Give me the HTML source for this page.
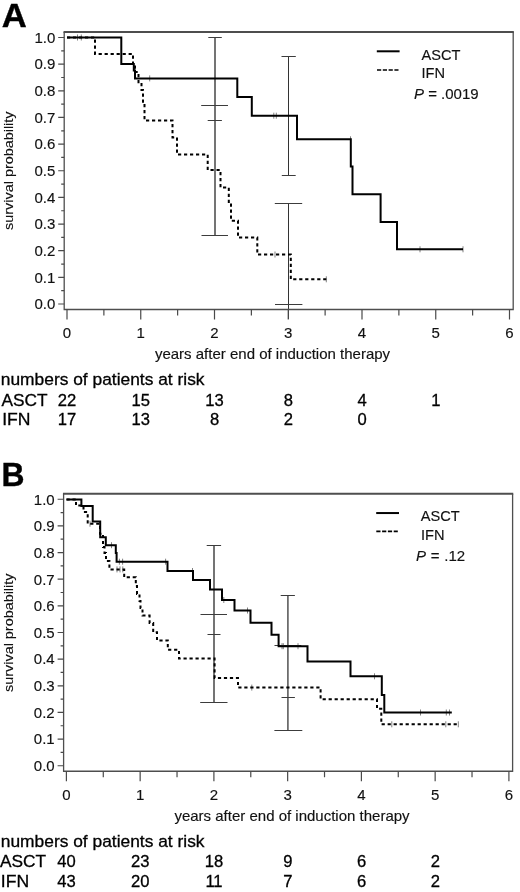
<!DOCTYPE html>
<html><head><meta charset="utf-8"><title>Survival after induction therapy</title>
<style>
html,body{margin:0;padding:0;background:#fff;}
body{width:520px;height:892px;overflow:hidden;font-family:"Liberation Sans", sans-serif;}
svg{display:block;will-change:transform;opacity:0.999;}
.t{font-family:"Liberation Sans", sans-serif;font-size:15px;fill:#111;stroke:#111;stroke-width:0.15px;}
.lg{font-family:"Liberation Sans", sans-serif;font-size:14.6px;fill:#111;stroke:#111;stroke-width:0.15px;}
.r{font-family:"Liberation Sans", sans-serif;font-size:16.6px;fill:#000;stroke:#000;stroke-width:0.3px;}
.L{font-family:"Liberation Sans", sans-serif;font-size:34.7px;font-weight:bold;fill:#000;stroke:#000;stroke-width:0.4px;}
</style></head>
<body>
<svg width="520" height="892" viewBox="0 0 520 892">
<rect width="520" height="892" fill="#fff"/>
<g>
<path d="M215,37.5V235.5" stroke="#5c5c5c" stroke-width="1.7" fill="none"/>
<path d="M288.5,56.5V175.5" stroke="#333" stroke-width="1" fill="none"/>
<path d="M288.5,203.5V319" stroke="#333" stroke-width="1" fill="none"/>
<path d="M208.3,37.5H221.8M207.7,120.5H221.9M201.2,105.5H228M201.5,235.5H228M281.5,56.5H295.8M281.8,175.5H295.7M274.8,203.5H302.2M275,304.5H302.4" stroke="#3c3c3c" stroke-width="1" fill="none"/>
<path d="M64.2,32V309.5H513.2V32" fill="none" stroke="#4e4e4e" stroke-width="1.3" stroke-linejoin="miter"/>
<path d="M63.550000000000004,32H513.85" fill="none" stroke="#4e4e4e" stroke-width="1.9"/>
<path d="M58.2,304.00H64.2M61.2,290.68H64.2M58.2,277.35H64.2M61.2,264.03H64.2M58.2,250.70H64.2M61.2,237.38H64.2M58.2,224.05H64.2M61.2,210.73H64.2M58.2,197.40H64.2M61.2,184.08H64.2M58.2,170.75H64.2M61.2,157.43H64.2M58.2,144.10H64.2M61.2,130.78H64.2M58.2,117.45H64.2M61.2,104.12H64.2M58.2,90.80H64.2M61.2,77.48H64.2M58.2,64.15H64.2M61.2,50.83H64.2M58.2,37.50H64.2M67.00,309.5V319.6M103.88,309.5V315.5M140.75,309.5V319.6M177.62,309.5V315.5M214.50,309.5V319.6M251.38,309.5V315.5M288.25,309.5V319.6M325.12,309.5V315.5M362.00,309.5V319.6M398.88,309.5V315.5M435.75,309.5V319.6M472.62,309.5V315.5M509.50,309.5V319.6" stroke="#4a4a4a" stroke-width="1.2" fill="none"/>
<text x="55.3" y="309.30" text-anchor="end" class="t">0.0</text>
<text x="55.3" y="282.65" text-anchor="end" class="t">0.1</text>
<text x="55.3" y="256.00" text-anchor="end" class="t">0.2</text>
<text x="55.3" y="229.35" text-anchor="end" class="t">0.3</text>
<text x="55.3" y="202.70" text-anchor="end" class="t">0.4</text>
<text x="55.3" y="176.05" text-anchor="end" class="t">0.5</text>
<text x="55.3" y="149.40" text-anchor="end" class="t">0.6</text>
<text x="55.3" y="122.75" text-anchor="end" class="t">0.7</text>
<text x="55.3" y="96.10" text-anchor="end" class="t">0.8</text>
<text x="55.3" y="69.45" text-anchor="end" class="t">0.9</text>
<text x="55.3" y="42.80" text-anchor="end" class="t">1.0</text>
<text x="67.00" y="337.80" text-anchor="middle" class="t">0</text>
<text x="140.75" y="337.80" text-anchor="middle" class="t">1</text>
<text x="214.50" y="337.80" text-anchor="middle" class="t">2</text>
<text x="288.25" y="337.80" text-anchor="middle" class="t">3</text>
<text x="362.00" y="337.80" text-anchor="middle" class="t">4</text>
<text x="435.75" y="337.80" text-anchor="middle" class="t">5</text>
<text x="509.50" y="337.80" text-anchor="middle" class="t">6</text>
<text x="272.5" y="359.3" text-anchor="middle" class="t">years after end of induction therapy</text>
<text transform="translate(12.8,170.7) rotate(-90) scale(0.994,0.925)" text-anchor="middle" class="t" style="font-size:14.5px">survival probability</text>
<path d="M77.5,34.5V40.5" stroke="#6a6a6a" stroke-width="0.85"/>
<path d="M81.3,34.5V40.5" stroke="#6a6a6a" stroke-width="0.85"/>
<path d="M149.7,75.4V81.4" stroke="#6a6a6a" stroke-width="0.85"/>
<path d="M215,75.4V81.4" stroke="#6a6a6a" stroke-width="0.85"/>
<path d="M273.8,112.7V118.7" stroke="#6a6a6a" stroke-width="0.85"/>
<path d="M276.3,112.7V118.7" stroke="#6a6a6a" stroke-width="0.85"/>
<path d="M350.5,136.3V142.3" stroke="#6a6a6a" stroke-width="0.85"/>
<path d="M420,246.3V252.3" stroke="#6a6a6a" stroke-width="0.85"/>
<path d="M463,246.3V252.3" stroke="#6a6a6a" stroke-width="0.85"/>
<path d="M275,251.5V257.5" stroke="#6a6a6a" stroke-width="0.85"/>
<path d="M326.3,276.3V282.3" stroke="#6a6a6a" stroke-width="0.85"/>
<path d="M67,37.5H95V53.9H133V64H135V72H138.5V84H141.5V90H143V105H144.5V120.5H172.5V137.5H177V154.5H207.7V170H220.5V187.5H228.8V204.5H231V220.7H238V237.5H257.3V254.5H290.8V279.3H326.3" stroke="#000" stroke-width="2" fill="none" stroke-dasharray="3.2 2.8"/>
<path d="M67,37.5H121.3V63.9H133.8V70.6H135V78.4H237.3V97H251.8V115.7H297V139.3H350.8V166.5H352.5V194.3H380.6V222H397V249.3H463" stroke="#000" stroke-width="2" fill="none" stroke-linejoin="miter"/>
<path d="M376.8,51.3H399.6" stroke="#000" stroke-width="2"/>
<path d="M377,70H398.5" stroke="#000" stroke-width="1.7" stroke-dasharray="4.2 1.6"/>
<text x="421.5" y="59.5" class="lg">ASCT</text>
<text x="421.5" y="78.3" class="lg">IFN</text>
<text x="414" y="99.4" class="t" style="word-spacing:0px"><tspan font-style="italic">P</tspan> = .0019</text>
<text transform="translate(1.7,26.5) scale(1.025,1)" class="L" style="font-size:33.8px">A</text>
<text transform="translate(0.8,385.2) scale(1.047,1)" class="r">numbers of patients at risk</text>
<text transform="translate(1.5,405.5) scale(1.04,1)" class="r">ASCT</text>
<text transform="translate(2.2,425.1) scale(1.06,1)" class="r">IFN</text>
<text x="67.10" y="405.6" text-anchor="middle" class="r">22</text>
<text x="140.85" y="405.6" text-anchor="middle" class="r">15</text>
<text x="214.60" y="405.6" text-anchor="middle" class="r">13</text>
<text x="288.35" y="405.6" text-anchor="middle" class="r">8</text>
<text x="362.10" y="405.6" text-anchor="middle" class="r">4</text>
<text x="435.85" y="405.6" text-anchor="middle" class="r">1</text>
<text x="67.10" y="425.20000000000005" text-anchor="middle" class="r">17</text>
<text x="140.85" y="425.20000000000005" text-anchor="middle" class="r">13</text>
<text x="214.60" y="425.20000000000005" text-anchor="middle" class="r">8</text>
<text x="288.35" y="425.20000000000005" text-anchor="middle" class="r">2</text>
<text x="362.10" y="425.20000000000005" text-anchor="middle" class="r">0</text>
</g>
<g>
<path d="M214,545.5V702.5" stroke="#5c5c5c" stroke-width="1.7" fill="none"/>
<path d="M287.9,595.5V730.5" stroke="#5c5c5c" stroke-width="1.6" fill="none"/>
<path d="M206.7,545.5H221.1M207.5,634.5H220.5M200.5,614.5H227M200.2,702.5H227.5M280.7,595.5H294.9M281.5,697.5H294.9M274.5,645.5H301.3M274.4,730.5H302.3" stroke="#3c3c3c" stroke-width="1" fill="none"/>
<path d="M63.6,493.75V771.25H512.6V493.75" fill="none" stroke="#4e4e4e" stroke-width="1.3" stroke-linejoin="miter"/>
<path d="M62.95,493.75H513.25" fill="none" stroke="#4e4e4e" stroke-width="1.9"/>
<path d="M57.6,765.75H63.6M60.6,752.42H63.6M57.6,739.10H63.6M60.6,725.77H63.6M57.6,712.45H63.6M60.6,699.12H63.6M57.6,685.80H63.6M60.6,672.47H63.6M57.6,659.15H63.6M60.6,645.82H63.6M57.6,632.50H63.6M60.6,619.17H63.6M57.6,605.85H63.6M60.6,592.52H63.6M57.6,579.20H63.6M60.6,565.88H63.6M57.6,552.55H63.6M60.6,539.22H63.6M57.6,525.90H63.6M60.6,512.57H63.6M57.6,499.25H63.6M66.40,771.25V781.35M103.28,771.25V777.25M140.15,771.25V781.35M177.03,771.25V777.25M213.90,771.25V781.35M250.78,771.25V777.25M287.65,771.25V781.35M324.52,771.25V777.25M361.40,771.25V781.35M398.27,771.25V777.25M435.15,771.25V781.35M472.02,771.25V777.25M508.90,771.25V781.35" stroke="#4a4a4a" stroke-width="1.2" fill="none"/>
<text x="54.699999999999996" y="771.05" text-anchor="end" class="t">0.0</text>
<text x="54.699999999999996" y="744.40" text-anchor="end" class="t">0.1</text>
<text x="54.699999999999996" y="717.75" text-anchor="end" class="t">0.2</text>
<text x="54.699999999999996" y="691.10" text-anchor="end" class="t">0.3</text>
<text x="54.699999999999996" y="664.45" text-anchor="end" class="t">0.4</text>
<text x="54.699999999999996" y="637.80" text-anchor="end" class="t">0.5</text>
<text x="54.699999999999996" y="611.15" text-anchor="end" class="t">0.6</text>
<text x="54.699999999999996" y="584.50" text-anchor="end" class="t">0.7</text>
<text x="54.699999999999996" y="557.85" text-anchor="end" class="t">0.8</text>
<text x="54.699999999999996" y="531.20" text-anchor="end" class="t">0.9</text>
<text x="54.699999999999996" y="504.55" text-anchor="end" class="t">1.0</text>
<text x="66.40" y="799.55" text-anchor="middle" class="t">0</text>
<text x="140.15" y="799.55" text-anchor="middle" class="t">1</text>
<text x="213.90" y="799.55" text-anchor="middle" class="t">2</text>
<text x="287.65" y="799.55" text-anchor="middle" class="t">3</text>
<text x="361.40" y="799.55" text-anchor="middle" class="t">4</text>
<text x="435.15" y="799.55" text-anchor="middle" class="t">5</text>
<text x="508.90" y="799.55" text-anchor="middle" class="t">6</text>
<text x="292" y="821.05" text-anchor="middle" class="t">years after end of induction therapy</text>
<text transform="translate(13.3,632.75) rotate(-90) scale(0.994,0.925)" text-anchor="middle" class="t" style="font-size:14.5px">survival probability</text>
<path d="M111.5,542.2V548.2" stroke="#6a6a6a" stroke-width="0.85"/>
<path d="M119.4,558.7V564.7" stroke="#6a6a6a" stroke-width="0.85"/>
<path d="M122.6,558.7V564.7" stroke="#6a6a6a" stroke-width="0.85"/>
<path d="M165.6,558.7V564.7" stroke="#6a6a6a" stroke-width="0.85"/>
<path d="M192.5,568V574" stroke="#6a6a6a" stroke-width="0.85"/>
<path d="M223.8,597V603" stroke="#6a6a6a" stroke-width="0.85"/>
<path d="M247.5,607.5V613.5" stroke="#6a6a6a" stroke-width="0.85"/>
<path d="M282,643.2V649.2" stroke="#6a6a6a" stroke-width="0.85"/>
<path d="M283.3,643.2V649.2" stroke="#6a6a6a" stroke-width="0.85"/>
<path d="M298,643.2V649.2" stroke="#6a6a6a" stroke-width="0.85"/>
<path d="M374.5,673.3V679.3" stroke="#6a6a6a" stroke-width="0.85"/>
<path d="M420.5,709.5V715.5" stroke="#6a6a6a" stroke-width="0.85"/>
<path d="M446.3,709.5V715.5" stroke="#6a6a6a" stroke-width="0.85"/>
<path d="M449.5,709.5V715.5" stroke="#6a6a6a" stroke-width="0.85"/>
<path d="M90,520.7V526.7" stroke="#6a6a6a" stroke-width="0.85"/>
<path d="M117,566.4V572.4" stroke="#6a6a6a" stroke-width="0.85"/>
<path d="M120,566.4V572.4" stroke="#6a6a6a" stroke-width="0.85"/>
<path d="M122.8,566.4V572.4" stroke="#6a6a6a" stroke-width="0.85"/>
<path d="M251.8,684.6V690.6" stroke="#6a6a6a" stroke-width="0.85"/>
<path d="M391.8,721.3V727.3" stroke="#6a6a6a" stroke-width="0.85"/>
<path d="M445.8,721.3V727.3" stroke="#6a6a6a" stroke-width="0.85"/>
<path d="M458.3,721.3V727.3" stroke="#6a6a6a" stroke-width="0.85"/>
<path d="M66.5,499.4H76V505.6H83.5V512H87.7V523.7H100V533.7H103V547H104.5V553H106V561H109.4V569.4H124.2V577.2H135.8V586H137V594H139.5V601H140.5V608H142.5V615.6H149.6V623H153.2V632.2H157V640.5H167.8V649.8H179V658.4H214.6V678H238V687.6H320.6V699.3H377V708.8H381.3V724.3H458.3" stroke="#000" stroke-width="2" fill="none" stroke-dasharray="3.2 2.8"/>
<path d="M66.5,499.4H81.4V506.1H92.7V521.4H100.2V537.2H105.8V545.2H115.8V553H116.6V561.7H167.5V571H193V580H210V589.5H222V600H234.5V610.5H250.5V622.7H271.5V634.7H278.6V646.2H307.5V661.6H350.5V676.3H381.8V695H384.3V712.5H451.8" stroke="#000" stroke-width="2" fill="none" stroke-linejoin="miter"/>
<path d="M376.2,513.05H399" stroke="#000" stroke-width="2"/>
<path d="M376.3,531.35H397.8" stroke="#000" stroke-width="1.7" stroke-dasharray="4.2 1.6"/>
<text x="420.8" y="521.25" class="lg">ASCT</text>
<text x="421" y="540.05" class="lg">IFN</text>
<text x="416" y="561.15" class="t" style="word-spacing:0.6px"><tspan font-style="italic">P</tspan> = .12</text>
<text transform="translate(1.4,486.2) scale(0.955,1)" class="L" style="font-size:33.4px">B</text>
<text transform="translate(0.8,846.95) scale(1.047,1)" class="r">numbers of patients at risk</text>
<text transform="translate(0.10000000000000009,867.25) scale(1.04,1)" class="r">ASCT</text>
<text transform="translate(0.8000000000000003,886.85) scale(1.06,1)" class="r">IFN</text>
<text x="66.50" y="867.35" text-anchor="middle" class="r">40</text>
<text x="140.25" y="867.35" text-anchor="middle" class="r">23</text>
<text x="214.00" y="867.35" text-anchor="middle" class="r">18</text>
<text x="287.75" y="867.35" text-anchor="middle" class="r">9</text>
<text x="361.50" y="867.35" text-anchor="middle" class="r">6</text>
<text x="435.25" y="867.35" text-anchor="middle" class="r">2</text>
<text x="66.50" y="886.95" text-anchor="middle" class="r">43</text>
<text x="140.25" y="886.95" text-anchor="middle" class="r">20</text>
<text x="214.00" y="886.95" text-anchor="middle" class="r">11</text>
<text x="287.75" y="886.95" text-anchor="middle" class="r">7</text>
<text x="361.50" y="886.95" text-anchor="middle" class="r">6</text>
<text x="435.25" y="886.95" text-anchor="middle" class="r">2</text>
</g>
</svg>
</body></html>
